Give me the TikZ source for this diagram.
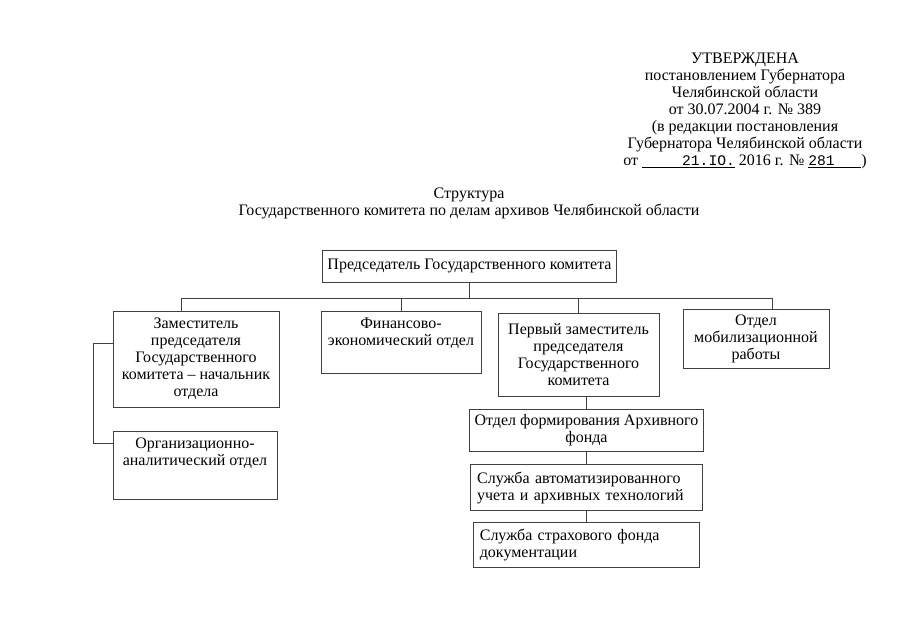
\documentclass[tikz,border=0pt]{standalone}
\usepackage{fontspec}
\setmainfont{Liberation Serif}
\setmonofont{Liberation Mono}
\usetikzlibrary{positioning}

\begin{document}
\begin{tikzpicture}[x=0.75pt,y=-0.75pt,
    every node/.style={font=\fontsize{12}{12.75}\selectfont},
    unit/.style={draw=black!75,line width=0.6pt,align=center,inner xsep=4pt,inner ysep=3pt},
    topunit/.style={unit,text height=23pt},
    leftunit/.style={unit,align=left,inner xsep=5pt},
    link/.style={draw=black!75,line width=0.6pt}]
  \useasboundingbox (0,0) rectangle (905,640);

  % header
  \node (approved) [align=center] at (745,111) {УТВЕРЖДЕНА\\
    постановлением Губернатора\\
    Челябинской области\\
    от 30.07.2004 г. № 389\\
    (в редакции постановления\\
    Губернатора Челябинской области\\
    от \underline{\hspace{30pt}{\ttfamily\fontsize{11}{12}\selectfont 21.IO.}} 2016 г. № \underline{{\ttfamily\fontsize{11}{12}\selectfont 281}\hspace{20pt}})};
  \node (title) [align=center] at (469,203) {Структура\\
    Государственного комитета по делам архивов Челябинской области};

  % boxes
  \begin{scope}
    \node (chair) [unit,minimum width=219.75pt,minimum height=24pt] at (469.5,266)
      {Председатель Государственного комитета};
    \node (dep) [unit,minimum width=124.5pt,minimum height=72pt] at (196,359)
      {Заместитель\\председателя\\Государственного\\комитета – начальник\\отдела};
    \node (fin) [topunit,minimum width=120pt,minimum height=46.5pt,text depth=17.5pt] at (401,342)
      {Финансово-\\экономический отдел};
    \node (first) [unit,minimum width=120.75pt,minimum height=62.25pt] at (578.5,354.5)
      {Первый заместитель\\председателя\\Государственного\\комитета};
    \node (mob) [unit,minimum width=109.5pt,minimum height=44.25pt] at (756,338.5)
      {Отдел\\мобилизационной\\работы};
    \node (org) [topunit,minimum width=123pt,minimum height=51pt,text depth=22pt] at (195,465)
      {Организационно-\\аналитический отдел};
    \node (arch) [unit,minimum width=170.25pt,minimum height=31.5pt] at (586.5,430)
      {Отдел формирования Архивного\\фонда};
    \node (auto) [leftunit,text width=164pt,minimum height=34.5pt,below=9.75pt of arch]
      {Служба автоматизированного\\учета и архивных технологий};
    \node (ins) [leftunit,text width=160pt,minimum height=33.75pt,below=8.25pt of auto]
      {Служба страхового фонда\\документации};
  \end{scope}

  % connectors
  \begin{scope}[every path/.style={link}]
    \draw (chair.south) -- ++(0,16) coordinate (bus);
    \draw ([xshift=-11.25pt]dep.north) |- (bus) -| ([xshift=12pt]mob.north);
    \draw (fin.north) -- (fin.north |- bus);
    \draw (first.north) -- (first.north |- bus);
    \draw (arch.north) -- (arch.north |- first.south);
    \draw (arch.south) -- (arch.south |- auto.north);
    \draw (auto.south) -- (auto.south |- ins.north);
    \draw ([yshift=12pt]dep.west) -- ++(-19,0) |- ([yshift=16.5pt]org.west);
  \end{scope}
\end{tikzpicture}
\end{document}
